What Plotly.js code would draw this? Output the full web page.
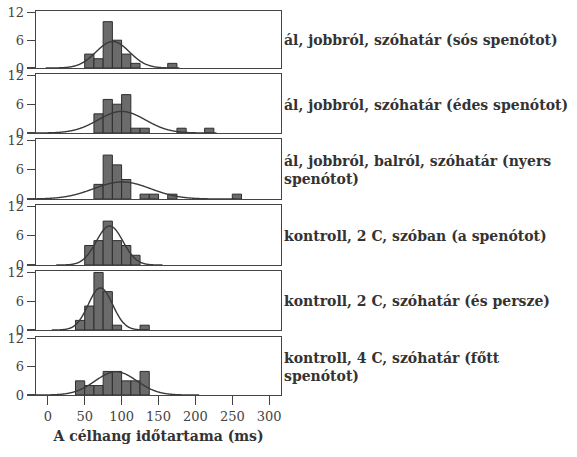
<!DOCTYPE html>
<html>
<head>
<meta charset="utf-8">
<script src="https://cdn.plot.ly/plotly-3.0.1.min.js"></script>
<style>html,body{margin:0;padding:0;background:#fff;}#chart{width:577px;height:457px;}</style>
</head>
<body>
<div id="chart"></div>
<script>
// Histogram bins (left edges, ms) and width
const binStart = [37.5, 50, 62.5, 75, 87.5, 100, 112.5, 125, 137.5, 150, 162.5, 175, 187.5, 200, 212.5, 225, 237.5, 250];
const binWidth = 12.5;

// Counts per panel (top to bottom)
const counts1 = [0, 3, 2, 10, 6, 3, 1, 0, 0, 0, 1, 0, 0, 0, 0, 0, 0, 0];
const counts2 = [0, 0, 4, 7, 6, 8, 1, 1, 0, 0, 0, 1, 0, 0, 1, 0, 0, 0];
const counts3 = [0, 0, 3, 9, 7, 4, 0, 1, 1, 0, 1, 0, 0, 0, 0, 0, 0, 1];
const counts4 = [0, 4, 5, 9, 5, 4, 2, 0, 0, 0, 0, 0, 0, 0, 0, 0, 0, 0];
const counts5 = [2, 5, 12, 8, 1, 0, 0, 1, 0, 0, 0, 0, 0, 0, 0, 0, 0, 0];
const counts6 = [3, 2, 2, 5, 5, 3, 3, 5, 0, 0, 0, 0, 0, 0, 0, 0, 0, 0];

const panelLabels = [
  "ál, jobbról, szóhatár (sós spenótot)",
  "ál, jobbról, szóhatár (édes spenótot)",
  "ál, jobbról, balról, szóhatár (nyers<br>spenótot)",
  "kontroll, 2 C, szóban (a spenótot)",
  "kontroll, 2 C, szóhatár (és persze)",
  "kontroll, 4 C, szóhatár (főtt<br>spenótot)"
];
const xTicks = [0, 50, 100, 150, 200, 250, 300];
const yTicks = [0, 6, 12];
const xTitle = "A célhang időtartama (ms)";

const allCounts = [counts1, counts2, counts3, counts4, counts5, counts6];
const domains = [[0.8516, 1.0], [0.6823, 0.8359], [0.5104, 0.6667], [0.3385, 0.4948], [0.1693, 0.3229], [0.0, 0.151]];

const serif = 'DejaVu Serif';
const axisColor = '#444';
const tickFont = {family: serif, size: 13, color: '#444'};
const data = [];
const layout = {
  width: 577, height: 457,
  font: {family: serif},
  margin: {l: 36, r: 296, t: 11, b: 62},
  paper_bgcolor: '#fff', plot_bgcolor: '#fff',
  showlegend: false,
  bargap: 0,
  annotations: []
};

allCounts.forEach((counts, i) => {
  const n = i + 1;
  const xa = 'x' + (n === 1 ? '' : n);
  const ya = 'y' + (n === 1 ? '' : n);
  // bars (non-empty bins)
  const bx = [], by = [];
  counts.forEach((c, k) => { if (c > 0) { bx.push(binStart[k] + binWidth / 2); by.push(c); } });
  data.push({
    type: 'bar', x: bx, y: by, width: binWidth, xaxis: xa, yaxis: ya,
    marker: {color: '#6b6b6b', line: {color: '#2e2e2e', width: 1}},
    hoverinfo: 'skip'
  });
  // fitted normal curve derived from the histogram (as the statistics package overlays)
  let N = 0, sum = 0;
  counts.forEach((c, k) => { N += c; sum += c * (binStart[k] + binWidth / 2); });
  const mean = sum / N;
  let ss = 0;
  counts.forEach((c, k) => { const d = binStart[k] + binWidth / 2 - mean; ss += c * d * d; });
  const sd = Math.sqrt(ss / (N - 1));
  const cx = [], cy = [];
  for (let x = mean - 4 * sd; x <= mean + 4 * sd; x += 1) {
    cx.push(x);
    cy.push(N * binWidth / (sd * Math.sqrt(2 * Math.PI)) * Math.exp(-0.5 * ((x - mean) / sd) ** 2));
  }
  data.push({
    type: 'scatter', mode: 'lines', x: cx, y: cy, xaxis: xa, yaxis: ya,
    line: {color: '#3a3a3a', width: 1.4, shape: 'spline'}, hoverinfo: 'skip'
  });

  const isBottom = (i === allCounts.length - 1);
  layout['xaxis' + (n === 1 ? '' : n)] = {
    domain: [0, 1], anchor: ya, range: [-16, 316],
    showline: true, mirror: true, linecolor: axisColor, linewidth: 1.3,
    showgrid: false, zeroline: false,
    tickvals: xTicks, ticks: isBottom ? 'outside' : '', ticklen: 9, tickcolor: axisColor, tickwidth: 1.3,
    showticklabels: isBottom, tickfont: tickFont,
    title: isBottom ? {text: '<b>' + xTitle + '</b>', font: {family: serif, size: 14, color: '#333'}, standoff: 8} : {text: ''}
  };
  if (i > 0) layout['xaxis' + n].matches = 'x';
  layout['yaxis' + (n === 1 ? '' : n)] = {
    domain: domains[i], anchor: xa, range: [0, 12.3],
    showline: true, mirror: true, linecolor: axisColor, linewidth: 1.3,
    showgrid: false, zeroline: false,
    tickvals: yTicks, ticks: 'outside', ticklen: 8, tickcolor: axisColor, tickwidth: 1.3,
    tickfont: tickFont, ticklabelstandoff: 0
  };
  layout.annotations.push({
    xref: 'paper', yref: 'paper', x: 1, y: (domains[i][0] + domains[i][1]) / 2,
    xanchor: 'left', yanchor: 'middle', xshift: 1, yshift: -1, align: 'left',
    showarrow: false, text: '<b>' + panelLabels[i] + '</b>',
    font: {family: serif, size: 14, color: '#333'}
  });
});

Plotly.newPlot('chart', data, layout, {displayModeBar: false, staticPlot: true});
</script>
</body>
</html>
